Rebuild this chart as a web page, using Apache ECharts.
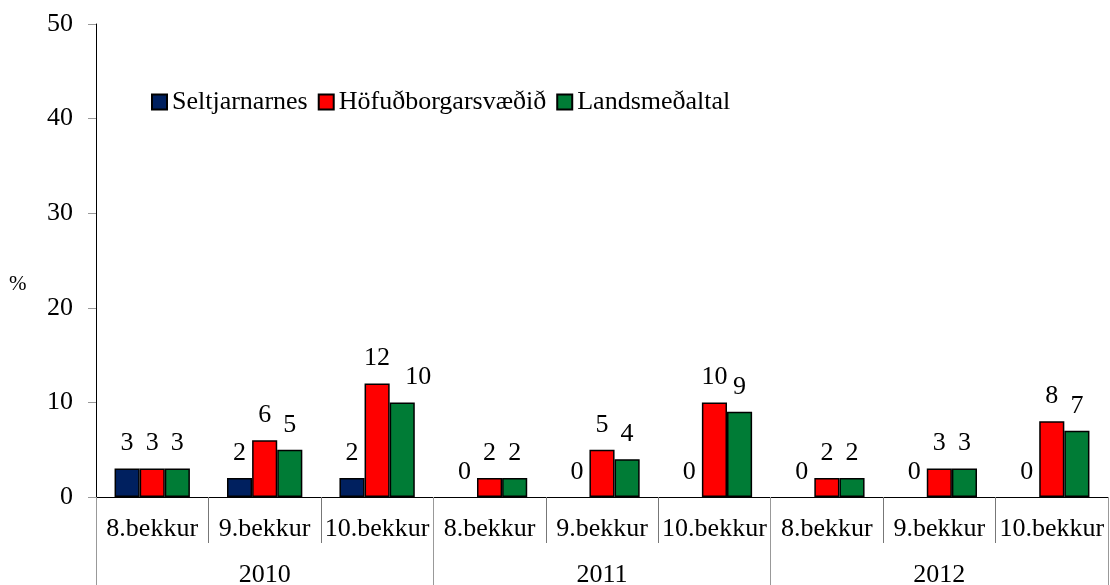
<!DOCTYPE html>
<html>
<head>
<meta charset="utf-8">
<script src="https://cdn.jsdelivr.net/npm/echarts@6/dist/echarts.min.js"></script>
<style>
  html, body { margin: 0; padding: 0; background: #fff; }
  #container { width: 1110px; height: 585px; }
</style>
</head>
<body>
<div id="container"></div>
<script>
var grades = ['8.bekkur', '9.bekkur', '10.bekkur', '8.bekkur', '9.bekkur', '10.bekkur', '8.bekkur', '9.bekkur', '10.bekkur'];
var years = ['2010', '2011', '2012'];
var seltjarnarnes = [3, 2, 2, 0, 0, 0, 0, 0, 0];
var hofudborgarsvaedid = [3, 6, 12, 2, 5, 10, 2, 3, 8];
var landsmedaltal = [3, 5, 10, 2, 4, 9, 2, 3, 7];
var yTicks = [0, 10, 20, 30, 40, 50];

var font = '"Liberation Serif", "Times New Roman", serif';

var dom = document.getElementById('container');
var myChart = echarts.init(dom, null, { renderer: 'canvas' });

// núll-súlur fá engan ramma, bara merkið "0"
function toItems(data) {
  return data.map(function (v) {
    return v === 0 ? { value: v, itemStyle: { borderWidth: 0 } } : { value: v };
  });
}

function barSeries(name, data, color) {
  return {
    name: name,
    type: 'bar',
    xAxisIndex: 0,
    barGap: 0,
    barCategoryGap: '33%',
    data: toItems(data),
    itemStyle: { color: color, borderColor: '#000', borderWidth: 1.5 },
    label: {
      show: true,
      position: 'top',
      distance: 12,
      fontFamily: font,
      fontSize: 26,
      color: '#000'
    }
  };
}

var greenSeries = barSeries('Landsmeðaltal', landsmedaltal, '#007C36');
// merkið "10" í 2010 er fært aðeins til hægri
greenSeries.data[2].label = { offset: [16, 0] };

var option = {
  animation: false,
  grid: { left: 96, right: 2, top: 24, bottom: 88, containLabel: false, outerBoundsMode: 'none' },
  legend: {
    left: 146,
    top: 84,
    icon: 'rect',
    itemWidth: 15,
    itemHeight: 15,
    itemGap: 10,
    textStyle: { fontFamily: font, fontSize: 26, color: '#000' },
    data: ['Seltjarnarnes', 'Höfuðborgarsvæðið', 'Landsmeðaltal']
  },
  graphic: [{
    type: 'text',
    left: 9,
    top: 274,
    style: { text: '%', font: '21px ' + font, fill: '#000' }
  }],
  xAxis: [
    {
      type: 'category',
      data: grades,
      position: 'bottom',
      axisLine: { show: true, lineStyle: { color: '#000', width: 1 } },
      axisTick: { show: true, interval: 0, length: 46, lineStyle: { color: '#777' } },
      axisLabel: { interval: 0, margin: 19, fontFamily: font, fontSize: 26, color: '#000' }
    },
    {
      type: 'category',
      data: years,
      position: 'bottom',
      axisLine: { show: false },
      axisTick: { show: true, interval: 0, length: 90, lineStyle: { color: '#999' } },
      axisLabel: { interval: 0, margin: 65, fontFamily: font, fontSize: 26, color: '#000' }
    }
  ],
  yAxis: {
    type: 'value',
    min: yTicks[0],
    max: yTicks[yTicks.length - 1],
    interval: 10,
    axisLine: { show: true, lineStyle: { color: '#000', width: 1 } },
    axisTick: { show: true, length: 8, lineStyle: { color: '#999' } },
    splitLine: { show: false },
    axisLabel: { margin: 23, fontFamily: font, fontSize: 26, color: '#000' }
  },
  series: [
    barSeries('Seltjarnarnes', seltjarnarnes, '#00205F'),
    barSeries('Höfuðborgarsvæðið', hofudborgarsvaedid, '#FF0000'),
    greenSeries
  ]
};

myChart.setOption(option);

window.addEventListener('resize', function () {
  myChart.resize();
});
</script>
</body>
</html>
